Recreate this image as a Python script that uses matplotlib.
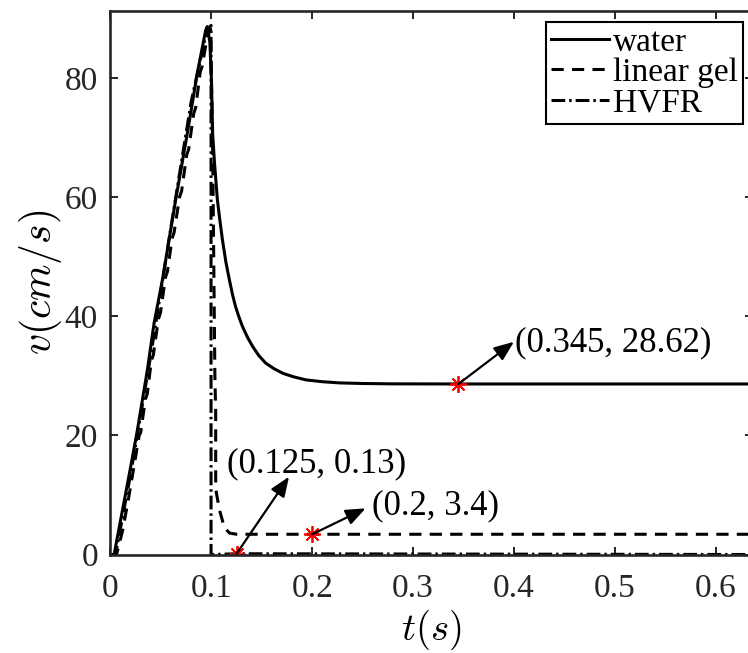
import numpy as np
import matplotlib.pyplot as plt

plt.rcParams['font.family'] = ['Liberation Serif', 'DejaVu Serif']
plt.rcParams['mathtext.fontset'] = 'cm'

AX_COLOR = '#262626'

# velocity for water
t_water = [0, 0.0036, 0.0201, 0.0267, 0.0366, 0.0432, 0.0515, 0.0646, 0.0762,
           0.086, 0.0944, 0.096, 0.0985, 0.1, 0.1013, 0.103, 0.106, 0.1085,
           0.111, 0.1145, 0.118, 0.121, 0.124, 0.1275, 0.131, 0.136, 0.141,
           0.147, 0.154, 0.162, 0.171, 0.182, 0.194, 0.21, 0.227, 0.25, 0.28,
           0.345, 0.65]
v_water = [0, 0, 14.8, 20.9, 31, 38.8, 46.1, 59.5, 70.7,
           80.7, 88, 88.6, 86, 80, 70.6, 66, 59.5, 56,
           52.8, 49, 46, 43.6, 41.6, 39.8, 38.2, 36.4, 34.9,
           33.4, 32.1, 31.2, 30.4, 29.8, 29.3, 29.0, 28.8, 28.7, 28.64,
           28.62, 28.62]

# linear gel
t_gel = [0, 0.006, 0.012, 0.018, 0.024, 0.0285, 0.0300, 0.0345, 0.0365,
         0.0405, 0.0425, 0.0475, 0.0495, 0.0545, 0.0565, 0.061, 0.063,
         0.0685, 0.0705, 0.0755, 0.0775, 0.0825, 0.0845, 0.089, 0.091,
         0.0955, 0.0975, 0.0992, 0.1012, 0.1035, 0.1043, 0.1043, 0.108,
         0.113, 0.118, 0.125, 0.2, 0.65]
v_gel = [0, 0, 4, 9.5, 15.5, 20, 20.5, 26, 27,
         32.5, 33.5, 39.5, 40.5, 46.5, 47.5, 53, 54,
         60, 61, 67, 68, 74, 75, 81, 82,
         86.5, 87.5, 88.2, 70, 30, 24, 11, 7.5,
         4.5, 3.6, 3.4, 3.4, 3.4]

# HVFR
t_hvfr = [0, 0.005, 0.02, 0.04, 0.06, 0.08, 0.095, 0.0997, 0.0997, 0.125, 0.65]
v_hvfr = [0, 0, 13.5, 33.5, 55, 76, 87.5, 88.8, 0, 0.13, 0]

# marked points: (t, v), arrow tip, text anchor
pt_t = [0.345, 0.125, 0.2]
pt_v = [28.62, 0.13, 3.4]
tip_t = [0.400, 0.177, 0.253]
tip_v = [35.7, 13.05, 7.75]
lab_t = [0.401, 0.116, 0.259]
lab_v = [35.5, 15.2, 8.15]
labels = ['(0.345, 28.62)', '(0.125, 0.13)', '(0.2, 3.4)']

fig = plt.figure(figsize=(7.48, 6.53), dpi=100)
ax = fig.add_axes([0.1477, 0.1508, 0.859, 0.8323])

lw = 2.2
ax.plot(t_water, v_water, color='k', lw=lw, label='water')
ax.plot(t_gel, v_gel, color='k', lw=lw, dashes=(4, 2.7), label='linear gel')
ax.plot(t_hvfr, v_hvfr, color='k', lw=lw, dashes=(4.5, 1.3, 0.8, 1.3), label='HVFR')

ax.plot(pt_t, pt_v, linestyle='none', marker=(8, 2, 0), markersize=12,
        markeredgewidth=1.3, color='red')

for i in range(len(labels)):
    ax.annotate('', xy=(tip_t[i], tip_v[i]), xytext=(pt_t[i], pt_v[i]),
                arrowprops=dict(arrowstyle='-|>,head_length=0.6,head_width=0.24',
                                color='k', lw=1.6, mutation_scale=20,
                                shrinkA=0, shrinkB=0))
    ax.text(lab_t[i], lab_v[i], labels[i], fontsize=25, va='center', ha='left')

ax.set_xlim(0, 0.637)
ax.set_ylim(0, 91.2)
ax.set_xticks([0, 0.1, 0.2, 0.3, 0.4, 0.5, 0.6])
ax.set_xticklabels(['0', '0.1', '0.2', '0.3', '0.4', '0.5', '0.6'])
ax.set_yticks([0, 20, 40, 60, 80])

for s in ax.spines.values():
    s.set_linewidth(1.9)
    s.set_color(AX_COLOR)
ax.tick_params(direction='in', length=6, width=1.4, color=AX_COLOR,
               labelcolor=AX_COLOR, labelsize=24, top=True, right=True)
ax.tick_params(axis='x', pad=14)
ax.tick_params(axis='y', pad=9)

ax.set_xlabel(r'$t(s)$', fontsize=28, labelpad=2)
ax.set_ylabel(r'$v(cm/s)$', fontsize=30)
ax.yaxis.set_label_coords(-0.073, 0.5)

leg = ax.legend(loc='upper right', bbox_to_anchor=(0.9844, 0.9798), fontsize=24,
                fancybox=False, edgecolor='k', framealpha=1, handlelength=1.75,
                handletextpad=0.12, labelspacing=0.0, borderpad=0.15,
                borderaxespad=0)
leg.get_frame().set_linewidth(1.5)

fig.savefig('out.png', dpi=100)
